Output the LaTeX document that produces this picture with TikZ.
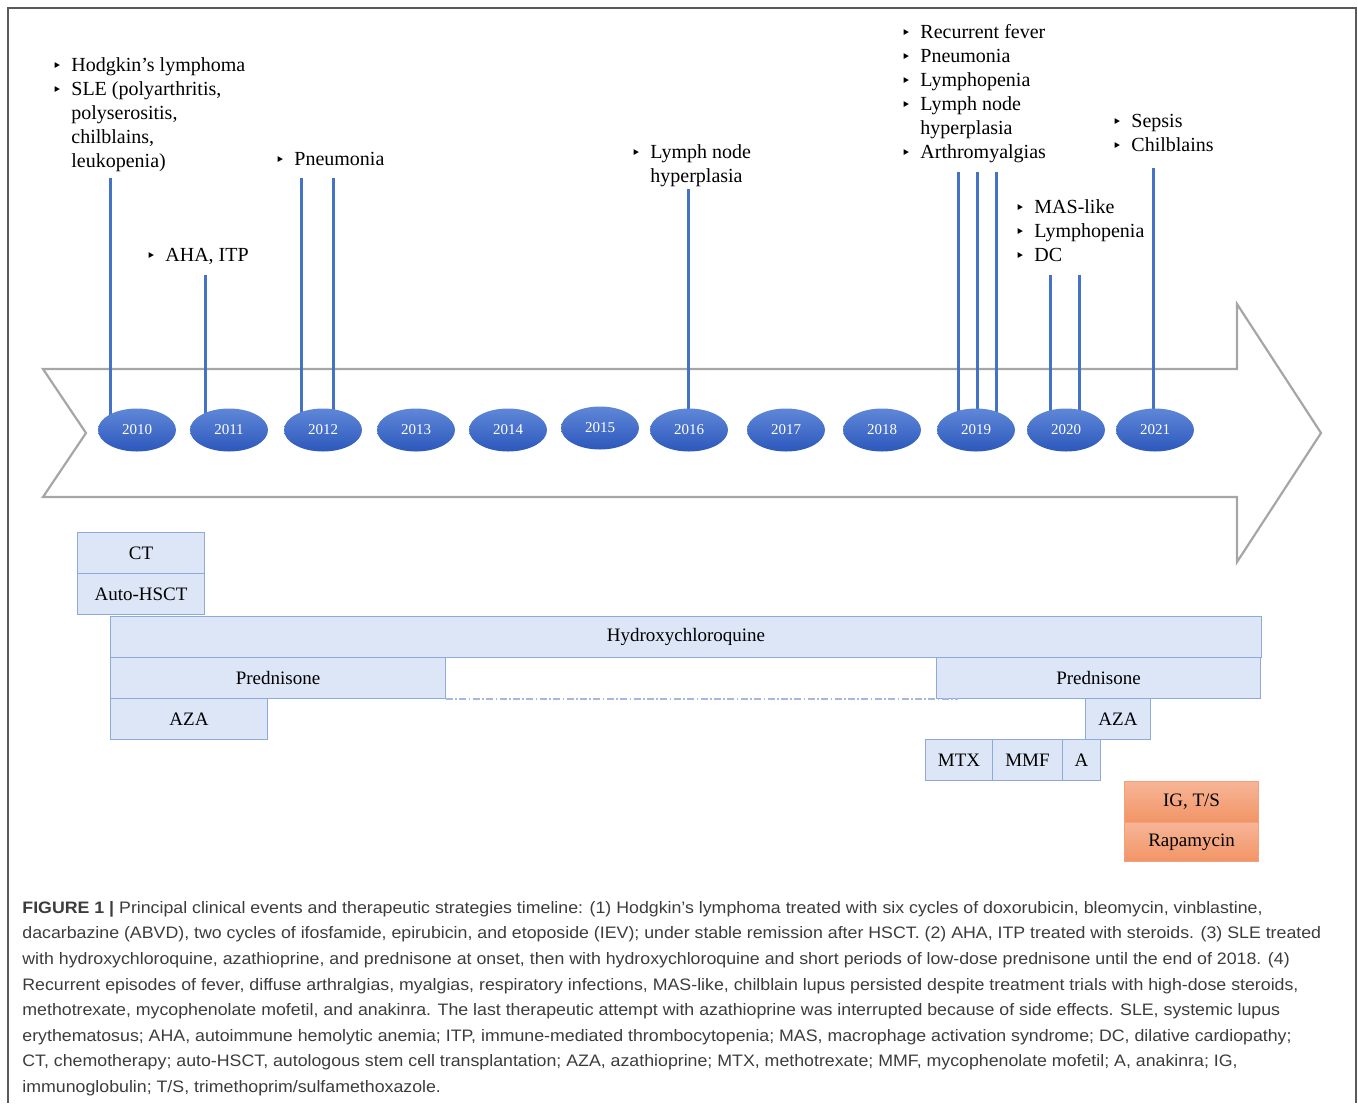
\documentclass[tikz,border=0pt]{standalone}
\usepackage{fontspec}
\setmainfont{Liberation Serif}
\newfontfamily\capfont[FakeStretch=1.07]{Liberation Sans}
\newfontfamily\symfont{DejaVu Sans}
\usetikzlibrary{shapes.geometric,positioning}
\definecolor{StemBlue}{HTML}{4472C4}
\definecolor{EllTop}{HTML}{5F87D8}
\definecolor{EllBot}{HTML}{2C58BC}
\definecolor{BarFill}{HTML}{DCE6F6}
\definecolor{BarLine}{HTML}{8EAADB}
\definecolor{OrangeTop}{HTML}{F7B597}
\definecolor{OrangeBot}{HTML}{F29466}
\definecolor{OrangeLine}{HTML}{F3A07A}
\definecolor{ArrowGray}{HTML}{A6A6A6}
\definecolor{FrameGray}{HTML}{5A5A5A}
\definecolor{CapText}{HTML}{3C3C3C}
\definecolor{DashBlue}{HTML}{A8B7E0}
\newcommand{\bl}{\makebox[9.5pt][l]{\symfont\fontsize{8}{8}\selectfont ‣}}
\newcommand{\gap}{\hspace*{9.5pt}}

\begin{document}
\begin{tikzpicture}[
  x=0.5pt, y=-0.5pt,
  stem/.style={StemBlue, line width=1.5pt},
  year/.style={ellipse, minimum width=39pt, minimum height=21.5pt, inner sep=0pt,
    top color=EllTop, bottom color=EllBot, text=white,
    font=\fontsize{7.5}{9}\selectfont},
  event/.style={anchor=north west, inner sep=0pt, align=left,
    font=\fontsize{10}{12}\selectfont},
  bar/.style={draw=BarLine, fill=BarFill, line width=0.5pt, anchor=north west,
    inner sep=0pt, minimum height=20.5pt, font=\fontsize{9.5}{11}\selectfont},
  hot/.style={bar, draw=OrangeLine, top color=OrangeTop, bottom color=OrangeBot}
]
\useasboundingbox (0,0) rectangle (1358,1103);

% frame
\draw[FrameGray, line width=1pt] (8,1103) -- (8,8) -- (1356,8) -- (1356,1103);

% timeline arrow
\draw[ArrowGray, line width=1.1pt]
  (43,369) -- (1237,369) -- (1237,304) -- (1321,433) -- (1237,562)
  -- (1237,497) -- (43,497) -- (86,433) -- cycle;

% year positions
\foreach \yr/\x/\y in {2010/137/430, 2011/229/430, 2012/323/430, 2013/416/430,
  2014/508/430, 2015/600/428, 2016/689/430, 2017/786/430, 2018/882/430,
  2019/976/430, 2020/1066/430, 2021/1155/430}
  \coordinate (c\yr) at (\x,\y);

% stems
\foreach \x/\top/\yr in {110/178/2010, 205/275/2011, 301/178/2012, 333/178/2012,
  688/189/2016, 958/172/2019, 977/172/2019, 996/172/2019,
  1050/275/2020, 1079/275/2020, 1153/168/2021}
  \draw[stem] (\x,\top) -- (\x,\top |- c\yr);

% year ellipses
\foreach \yr in {2010,...,2021}
  \node[year] (y\yr) at (c\yr) {\yr};

% events
\node[event] (ev2010) at (52,54) {\strut\bl Hodgkin’s lymphoma\\
  \bl SLE (polyarthritis,\\ \gap polyserositis,\\ \gap chilblains,\\ \gap leukopenia)};
\node[event] (ev2011) at (146,244) {\strut\bl AHA, ITP};
\node[event] (ev2012) at (275,148) {\strut\bl Pneumonia};
\node[event] (ev2016) at (631,141) {\strut\bl Lymph node\\ \gap hyperplasia};
\node[event] (ev2019) at (901,21) {\strut\bl Recurrent fever\\ \bl Pneumonia\\
  \bl Lymphopenia\\ \bl Lymph node\\ \gap hyperplasia\\ \bl Arthromyalgias};
\node[event] (ev2020) at (1015,196) {\strut\bl MAS-like\\ \bl Lymphopenia\\ \bl DC};
\node[event] (ev2021) at (1112,110) {\strut\bl Sepsis\\ \bl Chilblains};

% therapies
\foreach \nm/\x/\y/\w/\txt in {ct/77/532/127/CT, hsct/77/573/127/Auto-HSCT,
  hcq/110/616/1151/Hydroxychloroquine, predA/110/657/335/Prednisone,
  predB/936/657/324/Prednisone, azaA/110/698/157/AZA, azaB/1085/698/65/AZA,
  mtx/925/739/67/MTX, mmf/992/739/70/MMF, ana/1062/739/38/A}
  \node[bar, minimum width=\w*0.5pt] (\nm) at (\x,\y) {\txt};
\node[hot, minimum width=67pt] (igts) at (1124,781) {IG, T/S};
\node[hot, minimum width=67pt, minimum height=19.5pt] (rapa) at (1124,822) {Rapamycin};

% low-dose prednisone gap
\draw[DashBlue, line width=0.7pt, dash pattern=on 3.5pt off 1.2pt on 0.8pt off 1.2pt]
  (predA.south east) -- ([xshift=11pt]predB.south west);

% caption
\node[anchor=north west, inner sep=0pt, align=left, text=CapText,
  font=\capfont\fontsize{8.3}{12.8}\selectfont] (caption) at (22,895)
  {\strut\textbf{FIGURE 1 |} Principal clinical events and therapeutic strategies timeline: (1) Hodgkin’s lymphoma treated with six cycles of doxorubicin, bleomycin, vinblastine,\\
  dacarbazine (ABVD), two cycles of ifosfamide, epirubicin, and etoposide (IEV); under stable remission after HSCT. (2) AHA, ITP treated with steroids. (3) SLE treated\\
  with hydroxychloroquine, azathioprine, and prednisone at onset, then with hydroxychloroquine and short periods of low-dose prednisone until the end of 2018. (4)\\
  Recurrent episodes of fever, diffuse arthralgias, myalgias, respiratory infections, MAS-like, chilblain lupus persisted despite treatment trials with high-dose steroids,\\
  methotrexate, mycophenolate mofetil, and anakinra. The last therapeutic attempt with azathioprine was interrupted because of side effects. SLE, systemic lupus\\
  erythematosus; AHA, autoimmune hemolytic anemia; ITP, immune-mediated thrombocytopenia; MAS, macrophage activation syndrome; DC, dilative cardiopathy;\\
  CT, chemotherapy; auto-HSCT, autologous stem cell transplantation; AZA, azathioprine; MTX, methotrexate; MMF, mycophenolate mofetil; A, anakinra; IG,\\
  immunoglobulin; T/S, trimethoprim/sulfamethoxazole.};
\end{tikzpicture}
\end{document}
